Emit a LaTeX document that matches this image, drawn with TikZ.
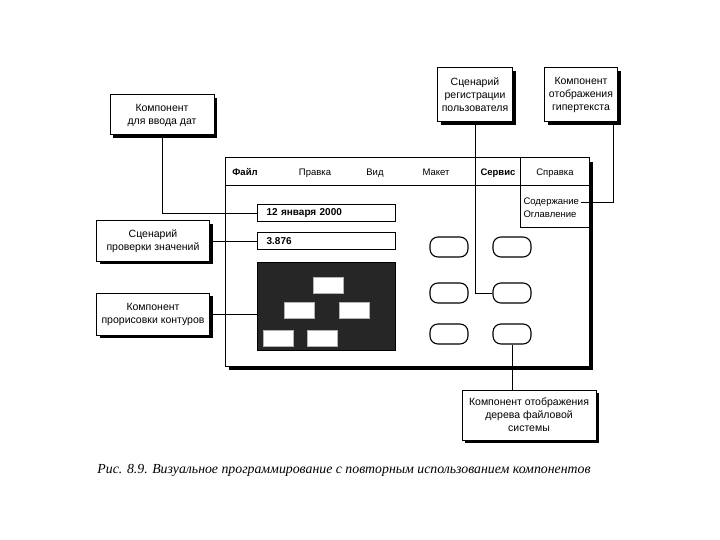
\documentclass[tikz,border=0pt]{standalone}
\usepackage{fontspec}
\setmainfont{Liberation Sans}
\newfontfamily\podpis{Liberation Serif}
\usetikzlibrary{shadows}

\begin{document}
\begin{tikzpicture}[x=1pt, y=-1pt, line width=1pt,
  vynoska/.style={draw, fill=white, align=center, inner sep=2pt,
    font=\fontsize{10.5}{13}\selectfont,
    drop shadow={shadow xshift=3pt, shadow yshift=-3pt, opacity=1, fill=black}},
  pole/.style={draw, line width=1.2pt, anchor=west, minimum width=138, minimum height=17,
    text width=120, inner xsep=9pt, font=\fontsize{10}{11}\selectfont\bfseries},
  knopka/.style={draw, rounded corners=8pt, minimum width=38, minimum height=20, line width=1.1pt},
  uzel/.style={draw=gray!60, fill=white, minimum width=30, minimum height=16},
  menu/.style={anchor=base, font=\fontsize{9.5}{11}\selectfont},
  svyaz/.style={draw, line width=0.9pt}]
  \useasboundingbox (0,0) rectangle (720,540);

  % ---- okno prilozheniya ----
  \draw[fill=white, drop shadow={shadow xshift=4pt, shadow yshift=-4pt, opacity=1, fill=black}]
    (225,158) rectangle (589,366);
  \draw (225,186) -- (589,186);
  \draw (475,158) -- (475,186);
  \draw (520,158) -- (520,228) -- (589,228);

  % menyu
  \node[menu, font=\fontsize{9.5}{11}\selectfont\bfseries] (fajl) at (245,176) {Файл};
  \node[menu] (pravka) at (315,176) {Правка};
  \node[menu] (vid)    at (375,176) {Вид};
  \node[menu] (maket)  at (436,176) {Макет};
  \node[menu, font=\fontsize{9.5}{11}\selectfont\bfseries] (servis) at (498,176) {Сервис};
  \node[menu] (spravka) at (555,176) {Справка};
  \node[menu, anchor=base west, inner sep=1pt] (sod) at (522,205) {Содержание};
  \node[menu, anchor=base west, inner sep=1pt] (ogl) at (522,218) {Оглавление};

  % polya vvoda
  \node[pole] (data)  at (257,213) {12 января 2000};
  \node[pole] (znach) at (257,241) {3.876};

  % panel kontura
  \node[fill=black!85, draw, anchor=north west, minimum width=138, minimum height=88,
    inner sep=0pt] (panel) at (257,262) {};
  \node[uzel] (u1) at (328,285) {};
  \node[uzel] (u2) at (299,310) {};
  \node[uzel] (u3) at (354,310) {};
  \node[uzel] (u4) at (278,338) {};
  \node[uzel] (u5) at (322,338) {};

  % knopki
  \foreach \r/\yy in {1/247, 2/293, 3/334} {
    \node[knopka] (k\r1) at (449,\yy) {};
    \node[knopka] (k\r2) at (512,\yy) {};
  }

  % ---- vynoski ----
  \node[vynoska, minimum width=104, minimum height=40] (kdata) at (162,115)
    {Компонент\\для ввода дат};
  \node[vynoska, minimum width=113, minimum height=40] (kprov) at (153,241)
    {Сценарий\\проверки значений};
  \node[vynoska, minimum width=113, minimum height=42] (kkont) at (153,314)
    {Компонент\\прорисовки контуров};
  \node[vynoska, minimum width=75, minimum height=54] (kreg) at (475,95)
    {Сценарий\\регистрации\\пользователя};
  \node[vynoska, minimum width=73, minimum height=54] (kgip) at (581,95)
    {Компонент\\отображения\\гипертекста};
  \node[vynoska, minimum width=134, minimum height=50] (kder) at (529,415)
    {Компонент отображения\\дерева файловой\\системы};

  % svyazi
  \draw[svyaz] (kdata.south) |- (data.west);
  \draw[svyaz] (kprov.east) -- (znach.west);
  \draw[svyaz] (kkont.east) -- (kkont.east -| panel.west);
  \draw[svyaz] (kreg.south) |- (k22.west);
  \draw[svyaz] ([xshift=-5pt]kgip.south east) |- (sod.east);
  \draw[svyaz] (k32.south) -- (k32.south |- kder.north);

  % podpis
  \node[font=\podpis\itshape\fontsize{13.8}{16}\selectfont] (podp) at (344,470)
    {Рис. 8.9. Визуальное программирование с повторным использованием компонентов};
\end{tikzpicture}
\end{document}
